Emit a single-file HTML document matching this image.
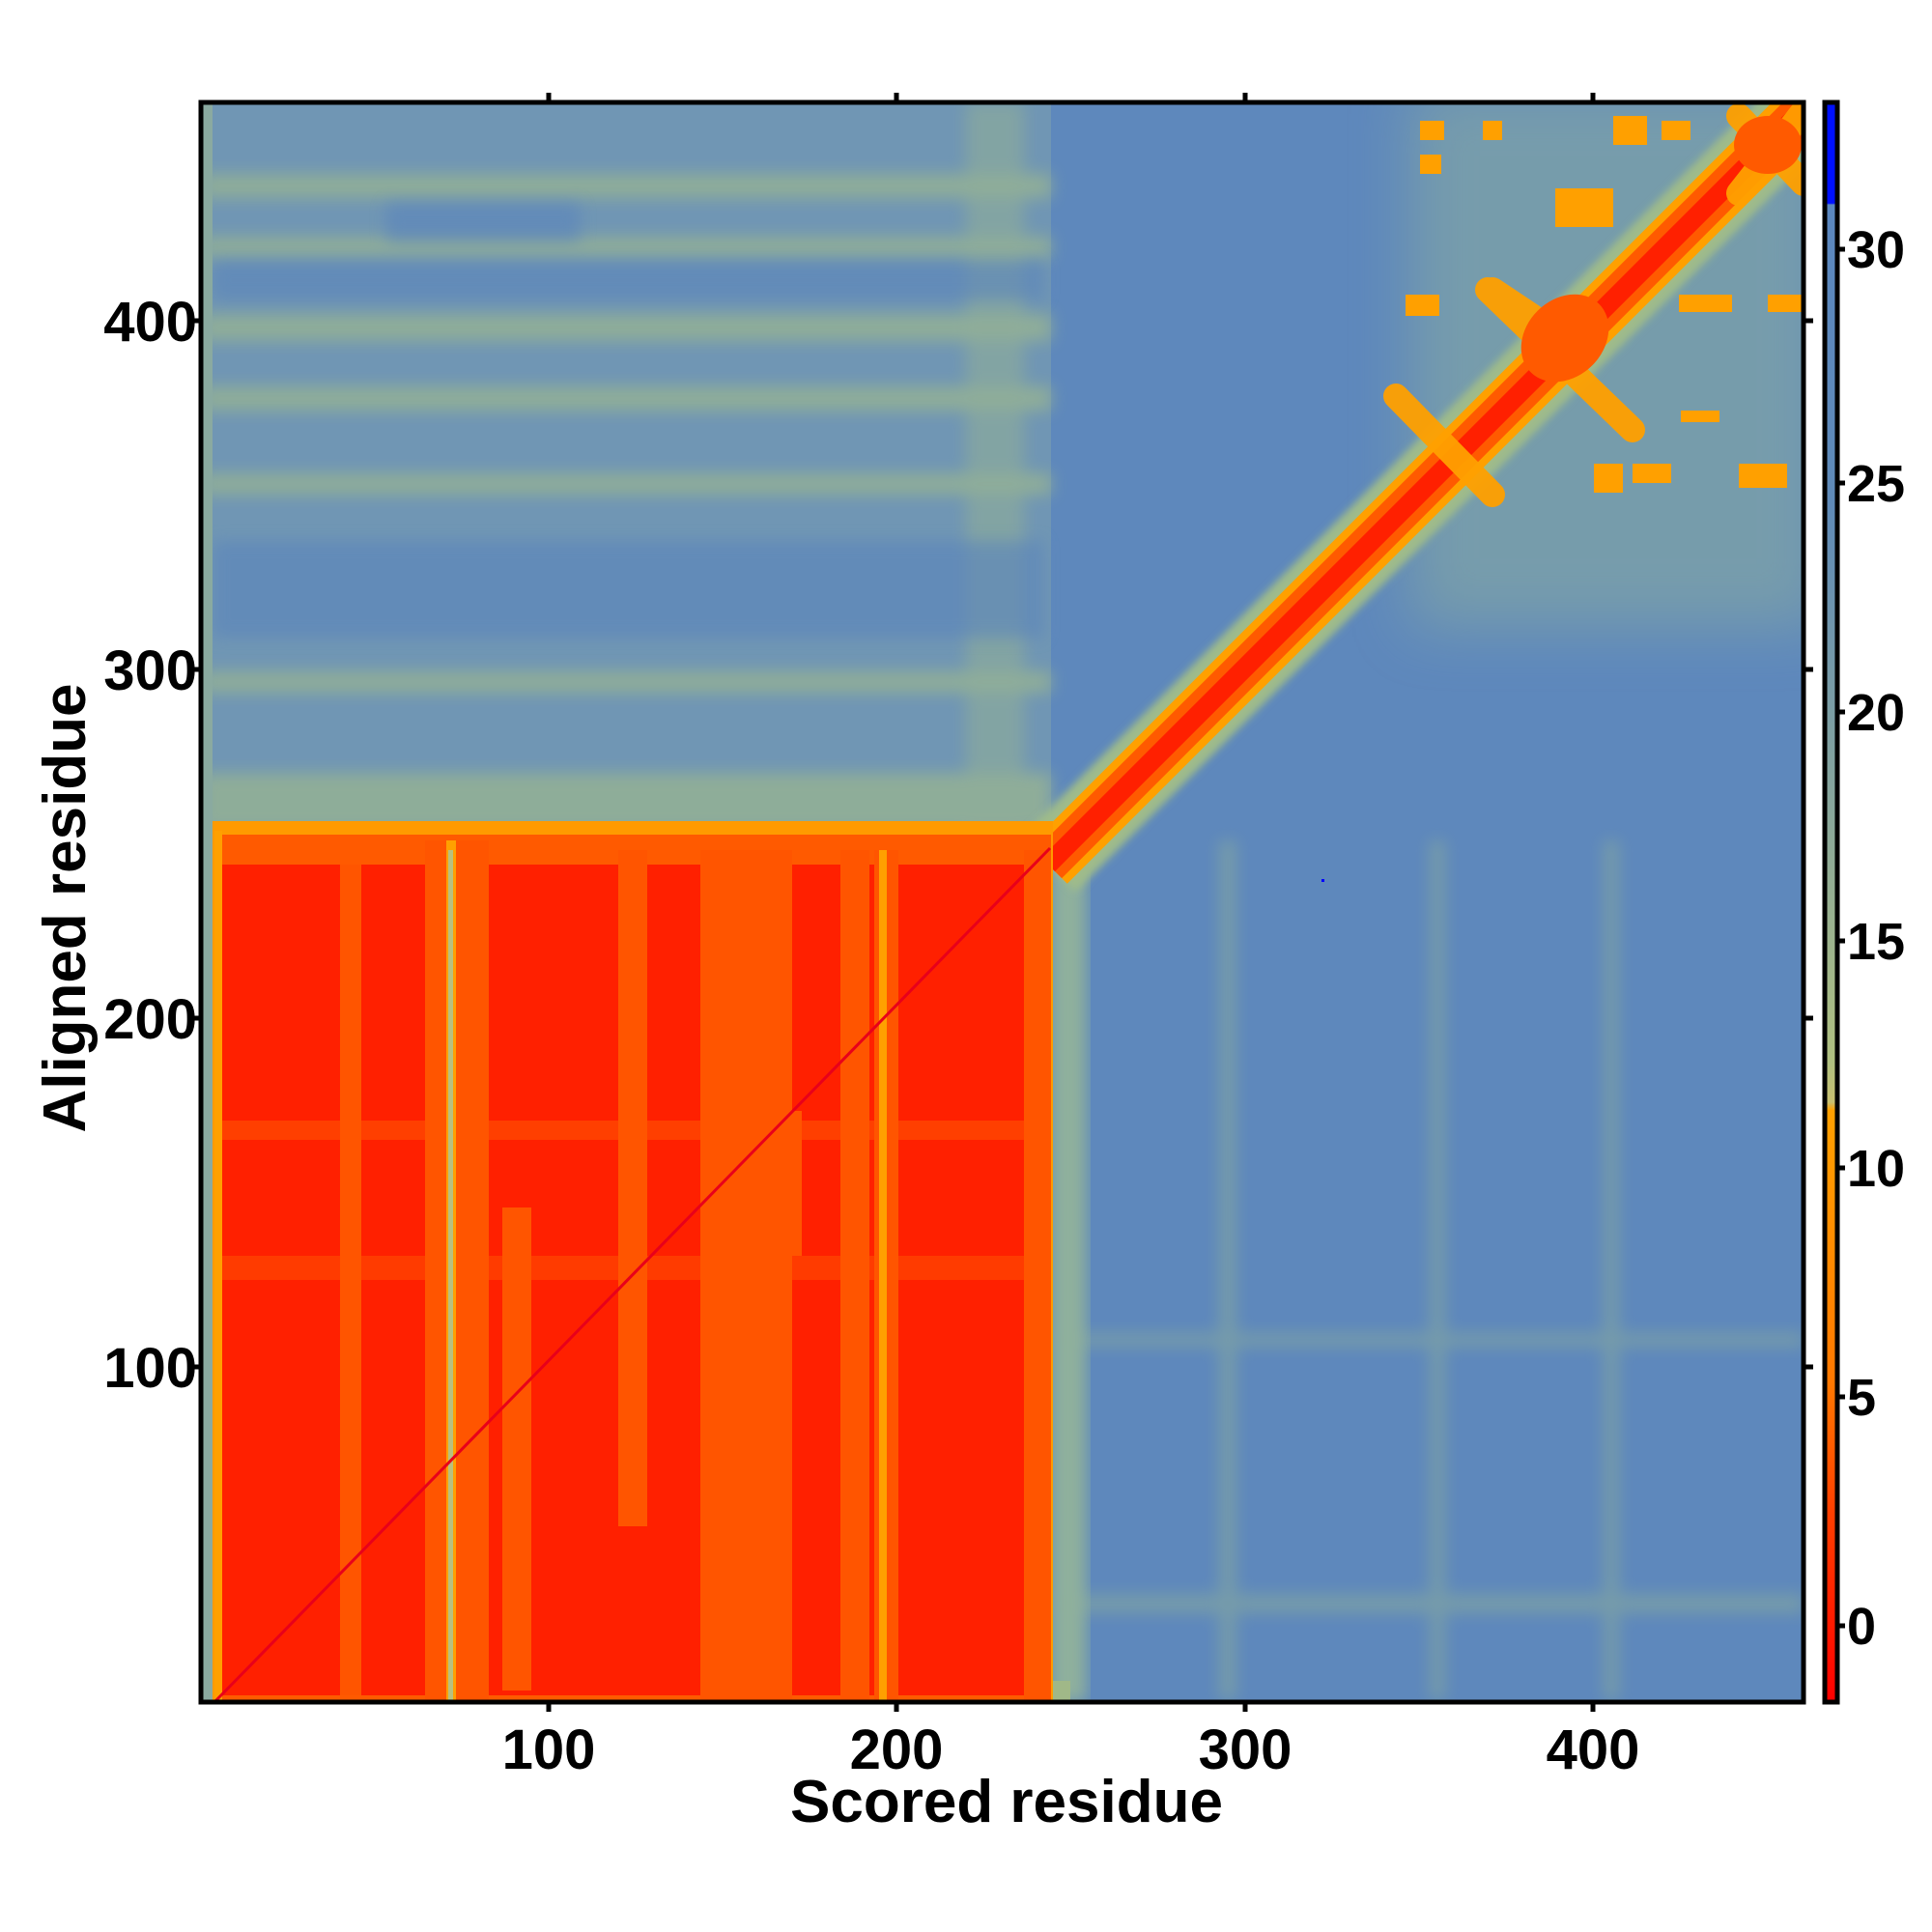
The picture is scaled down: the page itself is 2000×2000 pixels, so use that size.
<!DOCTYPE html>
<html><head><meta charset="utf-8"><style>
html,body{margin:0;padding:0;background:#fff}
svg{display:block}
text{font-family:"Liberation Sans",Arial,sans-serif;font-weight:bold;fill:#000}
</style></head><body>
<svg width="2000" height="2000" viewBox="0 0 2000 2000" xmlns="http://www.w3.org/2000/svg">
<defs>
<clipPath id="pc"><rect x="208" y="106" width="1659" height="1656"/></clipPath>
<linearGradient id="cb" x1="0" y1="0" x2="0" y2="1">
<stop offset="0" stop-color="#0010ff"/><stop offset="0.063" stop-color="#0010ff"/>
<stop offset="0.064" stop-color="#5b87bf"/><stop offset="0.25" stop-color="#5f8ab8"/>
<stop offset="0.45" stop-color="#8aa89a"/><stop offset="0.6" stop-color="#b0c080"/>
<stop offset="0.625" stop-color="#c8c070"/><stop offset="0.63" stop-color="#ffa000"/>
<stop offset="0.8" stop-color="#ff7800"/><stop offset="0.88" stop-color="#ff4000"/>
<stop offset="1" stop-color="#ff0000"/>
</linearGradient>
<filter id="blur8"><feGaussianBlur stdDeviation="8"/></filter>
<filter id="blur30" x="-20%" y="-20%" width="140%" height="140%"><feGaussianBlur stdDeviation="30"/></filter>
<filter id="blur4"><feGaussianBlur stdDeviation="4"/></filter>
</defs>
<g clip-path="url(#pc)">
<rect x="208" y="106" width="1659" height="1656" fill="#5e88bc"/>
<rect x="208" y="106" width="880" height="760" fill="#7096b4"/>
<g fill="#9cb78e" opacity="0.7" filter="url(#blur8)">
<rect x="208" y="180" width="880" height="25"/>
<rect x="208" y="245" width="880" height="22"/>
<rect x="208" y="325" width="880" height="28"/>
<rect x="208" y="400" width="880" height="25"/>
<rect x="208" y="490" width="880" height="22"/>
<rect x="208" y="695" width="880" height="22"/>
<rect x="208" y="800" width="880" height="60"/>
<rect x="1000" y="106" width="60" height="760" opacity="0.6"/>
</g>
<g fill="#5a84bc" opacity="0.6" filter="url(#blur8)">
<rect x="220" y="270" width="860" height="40"/>
<rect x="220" y="560" width="860" height="100"/>
<rect x="400" y="210" width="200" height="40"/>
</g>
<g fill="#93b395" opacity="0.45" filter="url(#blur8)">
<rect x="1262" y="870" width="18" height="890"/>
<rect x="1480" y="870" width="16" height="890"/>
<rect x="1660" y="870" width="16" height="890"/>
<rect x="1100" y="1650" width="767" height="20"/>
<rect x="1100" y="1380" width="767" height="14"/>
</g>
<g fill="#8fb09c" opacity="0.5" filter="url(#blur30)">
<rect x="1460" y="90" width="430" height="560"/>
</g>
<rect x="1087" y="870" width="38" height="892" fill="#8fb09c" filter="url(#blur8)"/>
<rect x="208" y="1740" width="900" height="22" fill="#a0b888"/>
<g stroke-linecap="butt">
<line x1="1085" y1="895" x2="1900" y2="80" stroke="#9fbb8a" stroke-width="80" filter="url(#blur4)"/>
<line x1="1085" y1="895" x2="1900" y2="80" stroke="#ffa000" stroke-width="56"/>
<line x1="1085" y1="895" x2="1900" y2="80" stroke="#ff5a00" stroke-width="40"/>
<line x1="1085" y1="895" x2="1900" y2="80" stroke="#ff2000" stroke-width="20"/>
</g>
<g stroke="#ffa000" stroke-width="26" stroke-linecap="round" opacity="0.95">
<line x1="1445" y1="410" x2="1545" y2="512"/>
<line x1="1540" y1="300" x2="1690" y2="445"/>
<line x1="1545" y1="300" x2="1590" y2="330"/>
<line x1="1800" y1="200" x2="1867" y2="115"/>
<line x1="1800" y1="120" x2="1867" y2="190"/>
</g>
<g fill="#ff5a00">
<ellipse cx="1620" cy="350" rx="50" ry="40" transform="rotate(-45 1620 350)"/>
<ellipse cx="1830" cy="150" rx="35" ry="30"/>
</g>
<g fill="#ffa000">
<rect x="1455" y="305" width="35" height="22"/>
<rect x="1738" y="305" width="55" height="18"/>
<rect x="1670" y="120" width="35" height="30"/>
<rect x="1720" y="125" width="30" height="20"/>
<rect x="1470" y="125" width="25" height="20"/>
<rect x="1535" y="125" width="20" height="20"/>
<rect x="1610" y="195" width="60" height="40"/>
<rect x="1470" y="160" width="22" height="20"/>
<rect x="1690" y="480" width="40" height="20"/>
<rect x="1800" y="480" width="50" height="25"/>
<rect x="1830" y="305" width="45" height="18"/>
<rect x="1650" y="480" width="30" height="30"/>
<rect x="1740" y="425" width="40" height="12"/>
</g>
<rect x="218" y="850" width="872" height="912" fill="#ff9a00"/>
<rect x="222" y="864" width="866" height="898" fill="#ff5a00"/>
<rect x="230" y="895" width="858" height="860" fill="#ff2000"/>
<g fill="#ff5500">
<rect x="352" y="895" width="22" height="860"/>
<rect x="440" y="870" width="66" height="892"/>
<rect x="520" y="1250" width="30" height="500"/>
<rect x="640" y="880" width="30" height="700"/>
<rect x="725" y="880" width="95" height="880"/>
<rect x="760" y="1150" width="70" height="150"/>
<rect x="870" y="880" width="30" height="880"/>
<rect x="905" y="880" width="25" height="880"/>
<rect x="230" y="1160" width="858" height="20" opacity="0.6"/>
<rect x="230" y="1300" width="858" height="25" opacity="0.5"/>
<rect x="1060" y="880" width="28" height="880"/>
</g>
<g fill="#ffa000">
<rect x="462" y="870" width="10" height="892"/>
<rect x="910" y="880" width="8" height="880"/>
<rect x="222" y="860" width="8" height="900"/>
</g>
<rect x="464" y="880" width="5" height="880" fill="#b8c080"/>
<line x1="222" y1="1762" x2="1087" y2="878" stroke="#e8001a" stroke-width="3"/>
<rect x="208" y="106" width="12" height="1656" fill="#8aaaa0"/>
<rect x="1368" y="910" width="3" height="3" fill="#0000ff"/>
</g>
<rect x="208" y="106" width="1659" height="1656" fill="none" stroke="#000" stroke-width="5"/>
<g stroke="#000" stroke-width="5">
<line x1="568" y1="1762" x2="568" y2="1772"/><line x1="928" y1="1762" x2="928" y2="1772"/>
<line x1="1289" y1="1762" x2="1289" y2="1772"/><line x1="1649" y1="1762" x2="1649" y2="1772"/>
<line x1="568" y1="96" x2="568" y2="106"/><line x1="928" y1="96" x2="928" y2="106"/>
<line x1="1289" y1="96" x2="1289" y2="106"/><line x1="1649" y1="96" x2="1649" y2="106"/>
<line x1="198" y1="332" x2="208" y2="332"/><line x1="198" y1="693" x2="208" y2="693"/>
<line x1="198" y1="1054" x2="208" y2="1054"/><line x1="198" y1="1415" x2="208" y2="1415"/>
<line x1="1867" y1="332" x2="1877" y2="332"/><line x1="1867" y1="693" x2="1877" y2="693"/>
<line x1="1867" y1="1054" x2="1877" y2="1054"/><line x1="1867" y1="1415" x2="1877" y2="1415"/>
</g>
<g font-size="58" text-anchor="middle">
<text x="568" y="1831">100</text><text x="928" y="1831">200</text>
<text x="1289" y="1831">300</text><text x="1649" y="1831">400</text>
</g>
<g font-size="58" text-anchor="end">
<text x="204" y="353">400</text><text x="204" y="714">300</text>
<text x="204" y="1075">200</text><text x="204" y="1436">100</text>
</g>
<text x="1042" y="1886" font-size="62" text-anchor="middle">Scored residue</text>
<text transform="translate(88 940) rotate(-90)" font-size="62" text-anchor="middle">Aligned residue</text>
<rect x="1889" y="106" width="13" height="1656" fill="url(#cb)" stroke="#000" stroke-width="5"/>
<g stroke="#000" stroke-width="5">
<line x1="1902" y1="258" x2="1910" y2="258"/><line x1="1902" y1="500" x2="1910" y2="500"/>
<line x1="1902" y1="737" x2="1910" y2="737"/><line x1="1902" y1="974" x2="1910" y2="974"/>
<line x1="1902" y1="1209" x2="1910" y2="1209"/><line x1="1902" y1="1446" x2="1910" y2="1446"/>
<line x1="1902" y1="1683" x2="1910" y2="1683"/>
</g>
<g font-size="54">
<text x="1912" y="277">30</text><text x="1912" y="519">25</text>
<text x="1912" y="756">20</text><text x="1912" y="993">15</text>
<text x="1912" y="1228">10</text><text x="1912" y="1465">5</text>
<text x="1912" y="1702">0</text>
</g>
</svg>
</body></html>
